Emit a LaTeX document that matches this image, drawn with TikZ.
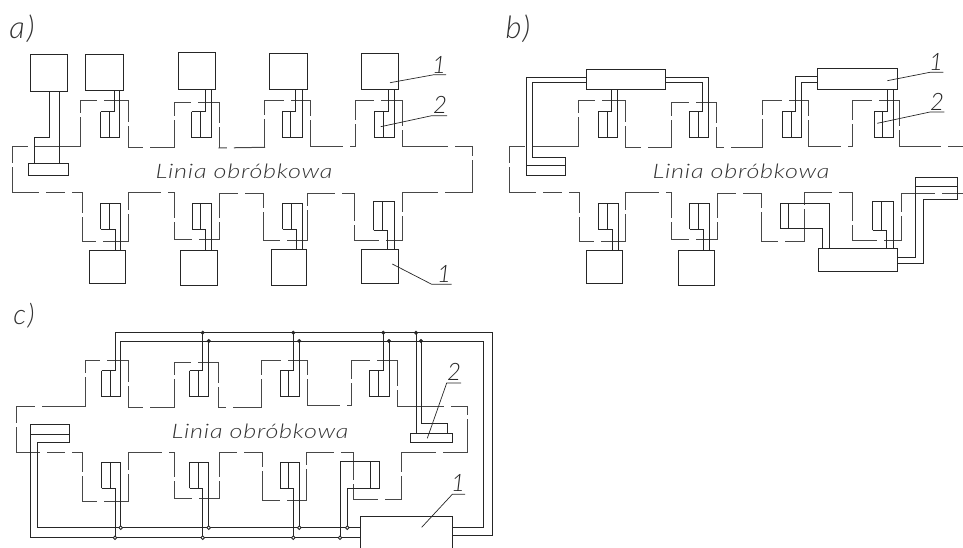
\documentclass[tikz,border=0pt]{standalone}
\usepackage{fontspec}
\setmainfont{Lato}
\newfontfamily\isofont[ItalicFont=Lato Light Italic,UprightFont=Lato Light,LetterSpace=3]{Lato}
\newfontfamily\isolab[ItalicFont=Lato Light Italic,UprightFont=Lato Light,LetterSpace=6]{Lato}
\tikzset{
 ln/.style={line width=0.9pt,black!85},
 outline/.style={line width=1pt,black!72,line cap=rect},
 lead/.style={line width=0.7pt,black!85},
 dotf/.style={circle,fill=black!85,draw=black!85,inner sep=0pt,minimum size=3.6pt},
 doto/.style={circle,fill=white,draw=black!85,line width=0.9pt,inner sep=0pt,minimum size=3.6pt},
 linia/.style={inner sep=0pt,black!80,font=\isofont\itshape\fontsize{20}{20}\selectfont},
 panel/.style={inner sep=0pt,black!80,font=\isolab\itshape\fontsize{31}{31}\selectfont},
 panelc/.style={inner sep=0pt,black!80,font=\isolab\itshape\fontsize{28}{28}\selectfont},
 num/.style={inner sep=0pt,black!85,font=\isolab\itshape\fontsize{24}{24}\selectfont},
}
\newcommand\widetext[1]{\scalebox{1.26}[1]{#1}}
% upper station: left, divider, cable, right, ytop, ybot, target of cable, target of right
\newcommand\stU[8]{%
 \draw[ln] (#1,#5)--(#1,#6)--(#4,#6)--(#4,#8) (#1,#5)--(#3,#5)--(#3,#7) (#2,#5)--(#2,#6);}
% lower station
\newcommand\stD[8]{%
 \draw[ln] (#1,#6)--(#1,#5)--(#4,#5)--(#4,#8) (#1,#6)--(#3,#6)--(#3,#7) (#2,#5)--(#2,#6);}
\newcommand\bx[4]{\draw[ln] (#1,#2) rectangle (#3,#4);}
% broken outline: list of x/y/f, f = position along the segment of its one gap
\newcommand\outl[1]{%
 \foreach \vx/\vy/\vf [count=\vi, remember=\vx as \px (initially 0), remember=\vy as \py (initially 0)] in {#1}{%
  \ifnum\vi>1
   \pgfmathsetmacro\ddx{\vx-\px}%
   \pgfmathsetmacro\ddy{\vy-\py}%
   \pgfmathsetmacro\len{veclen(\ddx,\ddy)}%
   \pgfmathsetmacro\gp{(abs(\ddx)>abs(\ddy)?8:5)/2/\len}%
   \pgfmathsetmacro\ga{\vf-\gp}%
   \pgfmathsetmacro\gb{\vf+\gp}%
   \draw[outline] (\px,\py)--({\px+\ddx*\ga},{\py+\ddy*\ga}) ({\px+\ddx*\gb},{\py+\ddy*\gb})--(\vx,\vy);
  \fi}}
\begin{document}
\begin{tikzpicture}[x=1pt,y=-1pt]
\useasboundingbox (0,0) rectangle (963,548);
% ===== a =====
\node[panel] (la) at (22,29) {a)};
\outl{12/147/0,80/147/.28,80/100.3/.68,128.7/100.3/.43,128.7/148/.5,174.3/148/.4,174.3/102.7/.66,219/102.7/.46,219/148/.5,264.7/147.3/.25,264.7/100.7/.65,310.3/100.7/.5,310.3/146.3/.38,355/146.3/.82,355/100.7/.53,402.3/100.7/.48,402.3/147/.6,472/147/.71,472/193/.24,402/193/.43,402/240.7/.45,354.7/240.7/.42,354.7/193.3/.37,307.3/193.3/.35,307.3/240.7/.3,263.3/240.7/.53,263.3/193.7/.65,219.7/193.7/.5,219.7/239/.58,174/239/.54,174/193/.41,128.7/193/.2,128.7/241.7/.4,82.3/241.7/.62,82.3/193/.55,55/193/.52,12/193/.29,12/147/.6}
\bx{30}{54.3}{67}{91.7}
\bx{85.7}{54.3}{123.3}{90.3}
\bx{178.3}{52.3}{215}{89.7}
\bx{269.7}{53.3}{307}{89.3}
\bx{361.3}{53.3}{398.3}{89.3}
\bx{28.7}{163.7}{68.3}{175.7}
\draw[ln] (49.7,91.7)--(49.7,137)--(34.3,137)--(34.3,163.7) (59.7,91.7)--(59.7,163.7);
\stU{100.7}{109.3}{114}{119.7}{111.7}{137}{90.3}{90.3}
\stU{191.7}{200.3}{205.7}{211}{111.7}{137}{89.7}{89.7}
\stU{282.7}{290.7}{295.7}{302}{111}{137.3}{89.3}{89.3}
\stU{374.7}{383}{388.3}{394}{111}{137.3}{89.3}{89.3}
\stD{100.7}{109.3}{115}{120.7}{203.3}{229}{250}{250}
\stD{192}{200.7}{205.3}{211.3}{203.3}{229}{250}{250}
\stD{282.7}{291}{296}{302.3}{203.3}{229}{249.3}{249.3}
\stD{373.7}{382.3}{387}{394.3}{201.7}{230.3}{249.3}{249.3}
\bx{89.3}{250}{125.3}{283.7}
\bx{180.7}{250}{217.3}{285}
\bx{271.7}{249.3}{306.3}{285.7}
\bx{361.3}{249.3}{398.3}{283.7}
\node[linia] (ta) at (244,171) {\widetext{Linia obróbkowa}};
\draw[lead] (390,82.7)--(434,74.7)--(446,74.7);
\draw[lead] (380.7,126.7)--(431.7,115.7)--(447,115.7);
\draw[lead] (392.3,264)--(431.7,284.3)--(451.7,284.3);
\node[num] (na1) at (439,65) {1};
\node[num] (na2) at (440,105) {2};
\node[num] (na3) at (444,274) {1};
% ===== b =====
\node[panel] (lb) at (518,29) {b)};
\outl{509.7/146.7/0,578.3/146.7/.28,578.3/100.3/.68,625.7/100.3/.43,625.7/148/.5,671.7/148/.4,671.7/102.7/.66,716.3/102.7/.46,716.3/148/.5,762.3/148/.25,762.3/100.7/.65,808/100.7/.5,808/146.3/.38,852.3/146.3/.82,852.3/100.7/.53,899.7/100.7/.48,899.7/147/.6,963/147/.71}
\outl{963/193.3/0,901.7/193.3/.4,901.7/240.3/.45,852/240.3/.42,852/193/.37,804.7/193/.35,804.7/241/.3,761/241/.53,761/193.7/.65,717.3/193.7/.5,717.3/239/.58,671.7/239/.54,671.7/193/.41,625.7/193/.2,625.7/241.7/.4,579.7/241.7/.62,579.7/193/.55,552/193/.52,509.7/193/.29,509.7/146.7/.6}
\bx{586}{69}{665.3}{89}
\bx{817.3}{68.7}{897.7}{89.3}
\draw[ln] (586,77.3)--(526.7,77.3)--(526.7,175.7)--(565.3,175.7)--(565.3,157.3)--(532.7,157.3)--(532.7,82.7)--(586,82.7) (526.7,165)--(565.3,165);
\draw[ln] (665.3,77.3)--(708.7,77.3)--(708.7,137)--(689.3,137)--(689.3,111.7)--(702.7,111.7)--(702.7,82.7)--(665.3,82.7) (698,111.7)--(698,137);
\stU{598}{607}{611.7}{617.7}{111.7}{137}{89}{89}
\draw[ln] (817.3,76.3)--(795.7,76.3)--(795.7,111)--(782.3,111)--(782.3,137.3)--(801.7,137.3)--(801.7,82.3)--(817.3,82.3) (791,111)--(791,137.3);
\stU{874}{882.3}{887.3}{893.3}{111}{137.3}{89.3}{89.3}
\stD{598}{607}{612.3}{618.3}{203.3}{229}{250}{250}
\stD{689.7}{698.3}{703}{709}{203.3}{229}{250}{250}
\bx{586.7}{250}{622.7}{283.7}
\bx{678}{250}{714.7}{285.7}
\draw[ln] (829.7,248.3)--(829.7,203)--(780.7,203)--(780.7,228.7)--(822.7,228.7)--(822.7,248.3) (788.7,203)--(788.7,228.7);
\stD{872.7}{881.3}{886.3}{893.7}{201.7}{230}{248.3}{248.3}
\bx{818}{248.3}{897}{271.3}
\draw[ln] (897,257)--(915,257)--(915,177)--(957.7,177)--(957.7,199.7)--(923.3,199.7)--(923.3,263.3)--(897,263.3) (915,186.3)--(957.7,186.3);
\node[linia] (tb) at (741,171) {\widetext{Linia obróbkowa}};
\draw[lead] (887.3,80.7)--(930,72.3)--(943.3,72.3);
\draw[lead] (877.3,123.3)--(930,112)--(944.3,112);
\node[num] (nb1) at (936,62) {1};
\node[num] (nb2) at (937,102) {2};
% ===== c =====
\node[panelc] (lc) at (24,316) {c)};
\outl{16/406/0,85/406/.32,85/360.3/.68,128.3/360.3/.43,128.3/407.3/.5,174.3/407.3/.4,174.3/362/.66,218.7/362/.46,218.7/407.3/.5,261.7/407.3/.25,261.7/360/.65,307/360/.5,307/405/.38,351.7/405/.82,351.7/360/.53,397.7/360/.48,397.7/406/.6,467.7/406/.71,467.7/452.3/.24,401/452.3/.43,401/499.7/.45,353.7/499.7/.42,353.7/452.3/.37,306.7/452.3/.35,306.7/500/.3,262.7/500/.53,262.7/452.5/.65,219/452.5/.5,219/498.3/.58,174.7/498.3/.54,174.7/452.3/.41,128.7/452.3/.2,128.7/501/.4,82.7/501/.62,82.7/452.3/.55,55/452.3/.52,16/452.3/.29,16/406/.6}
\draw[ln] (115,370.7)--(115,332.7)--(492.7,332.7)--(492.7,535.7)--(452.3,535.7);
\draw[ln] (120.7,370.7)--(120.7,341)--(483.3,341)--(483.3,527.7)--(452.3,527.7);
\stU{101.7}{110}{115}{120.7}{370.7}{396}{332.7}{341}
\stU{189.7}{198}{202.7}{208.7}{370.7}{396}{332.7}{341}
\stU{280}{288.3}{293.3}{299.3}{370.7}{396.3}{332.7}{341}
\stU{369.3}{378}{383.3}{389}{370.7}{396.3}{332.7}{341}
\draw[ln] (416,332.7)--(416,433.3) (421,341)--(421,423.3)--(447.7,423.3)--(447.7,433.3);
\bx{410.3}{433.3}{452.3}{442.3}
\draw[ln] (360.3,537.7)--(30.3,537.7)--(30.3,424.3)--(69.7,424.3)--(69.7,442.3)--(37,442.3)--(37,527.7)--(360.3,527.7) (30.3,434.7)--(69.7,434.7);
\stD{101.7}{110}{115}{120.7}{462.3}{488.3}{537.7}{527.7}
\stD{189.7}{198}{202.7}{208.7}{462.3}{488.3}{537.7}{527.7}
\stD{280}{288.3}{293.3}{299.3}{462.3}{488.3}{537.7}{527.7}
\draw[ln] (340,537.7)--(340,461)--(379.3,461)--(379.3,488.3)--(347.3,488.3)--(347.3,527.7) (370.7,461)--(370.7,488.3);
\draw[ln] (360.3,548)--(360.3,516.3)--(452.3,516.3)--(452.3,548);
\foreach \x/\y in {202.7/332.7,208.7/341,293.3/332.7,299.3/341,383.3/332.7,389/341,416/332.7,421/341}
  \node[dotf] at (\x,\y) {};
\foreach \x/\y in {115/537.7,120.7/527.7,202.7/537.7,208.7/527.7,293.3/537.7,299.3/527.7,340/537.7,347.3/527.7}
  \node[doto] at (\x,\y) {};
\node[linia] (tc) at (260,431) {\widetext{Linia obróbkowa}};
\draw[lead] (427.3,438.3)--(446.7,383)--(461,383);
\draw[lead] (421.7,527.3)--(452.3,494.3)--(465,494.3);
\node[num] (nc2) at (454,372) {2};
\node[num] (nc1) at (458,483) {1};
\end{tikzpicture}
\end{document}
